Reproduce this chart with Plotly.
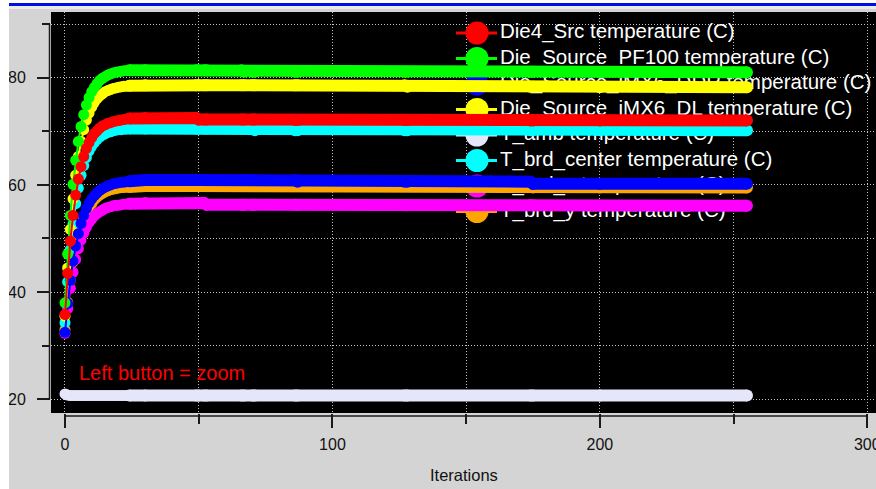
import plotly.graph_objects as go

# ---------------------------------------------------------------- data
# Iterations 0..24 are sampled every step (warm-up), then sparse samples on the plateau.
iterations = [0, 1, 2, 3, 4, 5, 6, 7, 8, 9, 10, 11, 12, 13, 14, 15, 16, 17, 18, 19, 20, 21, 22, 23, 24,
              30, 49, 50, 52, 53, 66, 67, 70, 71, 86, 87, 127, 128, 174, 175, 200, 255]

series_names = [
    "Die4_Src temperature (C)",
    "Die_Source_PF100 temperature (C)",
    "Die_Source_iMX6_DDR temperature (C)",
    "Die_Source_iMX6_DL temperature (C)",
    "T_amb temperature (C)",
    "T_brd_center temperature (C)",
    "T_brd_x temperature (C)",
    "T_brd_y temperature (C)",
]

die4_src = [35.8, 43.5, 49.5, 54.3, 58.1, 61.1, 63.4, 65.3, 66.8, 67.9, 68.8, 69.6, 70.1, 70.6, 71.0,
            71.2, 71.5, 71.6, 71.8, 71.9, 72.0, 72.1, 72.2, 72.3, 72.4,
            72.5, 72.5, 72.2, 72.2, 72.2, 72.2, 72.2, 72.2, 72.2, 72.1, 72.1, 72.1, 72.1, 72.0, 72.0, 72.0, 72.0]
die_pf100 = [38.0, 47.1, 54.3, 60.1, 64.6, 68.1, 70.9, 73.1, 74.9, 76.3, 77.4, 78.2, 78.9, 79.5, 79.9,
             80.2, 80.5, 80.7, 80.9, 81.0, 81.1, 81.2, 81.3, 81.3, 81.4,
             81.4, 81.4, 81.4, 81.4, 81.4, 81.4, 81.1, 81.1, 81.1, 81.1, 81.1, 81.1, 81.1, 81.1, 81.1, 81.0, 81.0]
die_imx6_ddr = [32.5, 37.9, 42.2, 45.8, 48.6, 50.9, 52.8, 54.3, 55.6, 56.6, 57.4, 58.0, 58.5, 59.0, 59.3,
                59.6, 59.8, 60.0, 60.2, 60.3, 60.4, 60.5, 60.5, 60.6, 60.7,
                60.9, 60.9, 60.9, 60.9, 60.9, 60.9, 60.9, 60.9, 60.9, 60.9, 60.6, 60.6, 60.6, 60.6, 60.2, 60.2, 60.2]
die_imx6_dl = [35.5, 44.5, 51.7, 57.4, 61.8, 65.3, 68.1, 70.3, 72.1, 73.4, 74.5, 75.4, 76.1, 76.6, 77.0,
               77.4, 77.6, 77.8, 78.0, 78.1, 78.2, 78.3, 78.4, 78.4, 78.5,
               78.6, 78.6, 78.6, 78.6, 78.6, 78.6, 78.6, 78.6, 78.6, 78.6, 78.6, 78.6, 78.3, 78.3, 78.3, 78.2, 78.2]
t_amb = [21.0, 20.8, 20.7, 20.7, 20.7, 20.7, 20.7, 20.7, 20.7, 20.7, 20.7, 20.7, 20.7, 20.7, 20.7,
         20.7, 20.7, 20.7, 20.7, 20.7, 20.7, 20.7, 20.7, 20.7, 20.7,
         20.7, 20.7, 20.7, 20.7, 20.7, 20.7, 20.7, 20.7, 20.7, 20.7, 20.7, 20.7, 20.7, 20.7, 20.7, 20.7, 20.7]
t_brd_center = [34.3, 41.9, 47.9, 52.7, 56.5, 59.4, 61.8, 63.6, 65.1, 66.3, 67.2, 67.9, 68.5, 68.9, 69.3,
                69.5, 69.8, 69.9, 70.1, 70.2, 70.3, 70.3, 70.4, 70.4, 70.5,
                70.5, 70.5, 70.5, 70.5, 70.5, 70.5, 70.5, 70.5, 70.2, 70.2, 70.2, 70.2, 70.2, 70.2, 70.2, 70.2, 70.2]
t_brd_x = [32.3, 36.9, 40.7, 43.7, 46.1, 48.1, 49.7, 51.0, 52.1, 53.0, 53.6, 54.2, 54.7, 55.0, 55.3,
           55.6, 55.8, 55.9, 56.1, 56.2, 56.2, 56.3, 56.4, 56.4, 56.5,
           56.6, 56.6, 56.6, 56.6, 56.3, 56.3, 56.3, 56.3, 56.3, 56.3, 56.3, 56.2, 56.2, 56.2, 56.2, 56.1, 56.1]
t_brd_y = [33.0, 38.1, 42.2, 45.6, 48.3, 50.5, 52.2, 53.7, 54.8, 55.8, 56.5, 57.2, 57.7, 58.1, 58.4,
           58.7, 58.9, 59.1, 59.2, 59.3, 59.4, 59.5, 59.5, 59.6, 59.6,
           59.8, 59.8, 59.8, 59.8, 59.8, 59.8, 59.8, 59.8, 59.8, 59.8, 59.8, 59.8, 59.8, 59.8, 59.5, 59.5, 59.5]

series_values = [die4_src, die_pf100, die_imx6_ddr, die_imx6_dl, t_amb, t_brd_center, t_brd_x, t_brd_y]
series_colors = ["#ff0000", "#00ff00", "#0000ff", "#ffff00", "#e6e6fa", "#00ffff", "#ff00ff", "#ffa500"]

x_tick_step = 100
y_tick_step = 20

# ---------------------------------------------------------------- layout
FONT = "Liberation Sans, Arial, sans-serif"
W, H = 876, 489
PLOT_L, PLOT_R, PLOT_T, PLOT_B = 51, 876, 12, 413
X_RANGE = [-5.23, 303.25]
Y_RANGE = [17.44, 92.26]
WARMUP = 25  # first samples drawn as individual dots


def paper_x(px):
    return (px - PLOT_L) / (PLOT_R - PLOT_L)


def paper_y(py):
    return (PLOT_B - py) / (PLOT_B - PLOT_T)


def axis_x(px):
    return X_RANGE[0] + paper_x(px) * (X_RANGE[1] - X_RANGE[0])


def axis_y(py):
    return Y_RANGE[0] + paper_y(py) * (Y_RANGE[1] - Y_RANGE[0])


def xval_paper(v):
    return (v - X_RANGE[0]) / (X_RANGE[1] - X_RANGE[0])


def yval_paper(v):
    return (v - Y_RANGE[0]) / (Y_RANGE[1] - Y_RANGE[0])


fig = go.Figure()

# Key drawn inside the plot, underneath the curves
for i, (name, color) in enumerate(zip(series_names, series_colors)):
    row_y = axis_y(33 + 25.5 * i)
    fig.add_trace(go.Scatter(
        x=[axis_x(456), axis_x(477), axis_x(497)], y=[row_y] * 3,
        mode="lines+markers",
        line=dict(color=color, width=3),
        marker=dict(size=[0, 23, 0], color=color, opacity=1, line=dict(width=0)),
        hoverinfo="skip", showlegend=False,
    ))
    fig.add_trace(go.Scatter(
        x=[axis_x(500)], y=[row_y], mode="text", text=[name],
        textposition="middle right",
        textfont=dict(color="white", size=20.5, family=FONT),
        hoverinfo="skip", showlegend=False,
    ))

# Curves, last series first so the first one ends on top
for name, values, color in reversed(list(zip(series_names, series_values, series_colors))):
    fig.add_trace(go.Scatter(
        x=iterations[WARMUP - 1:], y=values[WARMUP - 1:], name=name,
        mode="lines+markers",
        line=dict(color=color, width=12),
        marker=dict(size=12, color=color, opacity=1, line=dict(width=0)),
        showlegend=False,
    ))
    fig.add_trace(go.Scatter(
        x=iterations[:WARMUP], y=values[:WARMUP], name=name,
        mode="lines+markers",
        line=dict(color=color, width=2),
        marker=dict(size=11, color=color, opacity=1, line=dict(width=0)),
        showlegend=False,
    ))

GRID = dict(showgrid=True, gridcolor="#c4c4c4", griddash="1px,2px", gridwidth=1)
TICKS = dict(tickcolor="#1a1a1a", tickwidth=1.5)

fig.update_layout(
    template="none",
    width=W, height=H,
    margin=dict(l=PLOT_L, r=W - PLOT_R, t=PLOT_T, b=H - PLOT_B, pad=0),
    paper_bgcolor="#d4d4d4",
    plot_bgcolor="#000000",
    showlegend=False,
    hovermode=False,
    xaxis=dict(
        range=X_RANGE, tickmode="linear", tick0=0, dtick=x_tick_step,
        ticks="outside", ticklen=14, **TICKS, **GRID,
        zeroline=False, showline=False, automargin=False, fixedrange=True,
        tickfont=dict(size=16, color="#111111", family=FONT),
        ticklabelstandoff=3, ticklabeloverflow="allow",
        minor=dict(tick0=0, dtick=x_tick_step / 2, ticks="outside", ticklen=10, **TICKS, **GRID),
    ),
    yaxis=dict(
        range=Y_RANGE, tickmode="linear", tick0=0, dtick=y_tick_step,
        ticks="outside", ticklen=13, **TICKS, **GRID,
        zeroline=False, showline=False, automargin=False, fixedrange=True,
        tickfont=dict(size=16, color="#111111", family=FONT),
        ticklabelstandoff=8, ticklabeloverflow="allow",
        minor=dict(tick0=0, dtick=y_tick_step / 2, ticks="outside", ticklen=8, **TICKS, **GRID),
    ),
    shapes=[
        # window frame strips
        dict(type="rect", xref="paper", yref="paper", x0=paper_x(0), x1=paper_x(9),
             y0=paper_y(H), y1=paper_y(0), fillcolor="#ffffff", line=dict(width=0)),
        dict(type="rect", xref="paper", yref="paper", x0=paper_x(0), x1=paper_x(W),
             y0=paper_y(3), y1=paper_y(0), fillcolor="#ffffff", line=dict(width=0)),
        dict(type="rect", xref="paper", yref="paper", x0=paper_x(9), x1=paper_x(W),
             y0=paper_y(6), y1=paper_y(3), fillcolor="#0010e0", line=dict(width=0)),
        dict(type="rect", xref="paper", yref="paper", x0=paper_x(9), x1=paper_x(W),
             y0=paper_y(9), y1=paper_y(6), fillcolor="#ececec", line=dict(width=0)),
        # detached axis lines
        dict(type="line", xref="paper", yref="paper",
             x0=xval_paper(0), x1=xval_paper(300), y0=paper_y(416), y1=paper_y(416),
             line=dict(color="#1a1a1a", width=1.5)),
        dict(type="line", xref="paper", yref="paper",
             x0=paper_x(49.5), x1=paper_x(49.5), y0=yval_paper(20), y1=yval_paper(90),
             line=dict(color="#1a1a1a", width=1.5)),
    ],
    annotations=[
        dict(text="Left button = zoom", xref="paper", yref="paper",
             x=paper_x(77), y=paper_y(373), xanchor="left", yanchor="middle",
             showarrow=False, font=dict(size=20, color="#ff0000", family=FONT)),
        dict(text="Iterations", xref="paper", yref="paper",
             x=paper_x(464), y=paper_y(475), xanchor="center", yanchor="middle",
             showarrow=False, font=dict(size=16.5, color="#111111", family=FONT)),
    ],
)

fig.write_html("out.html", config={"displayModeBar": False})
